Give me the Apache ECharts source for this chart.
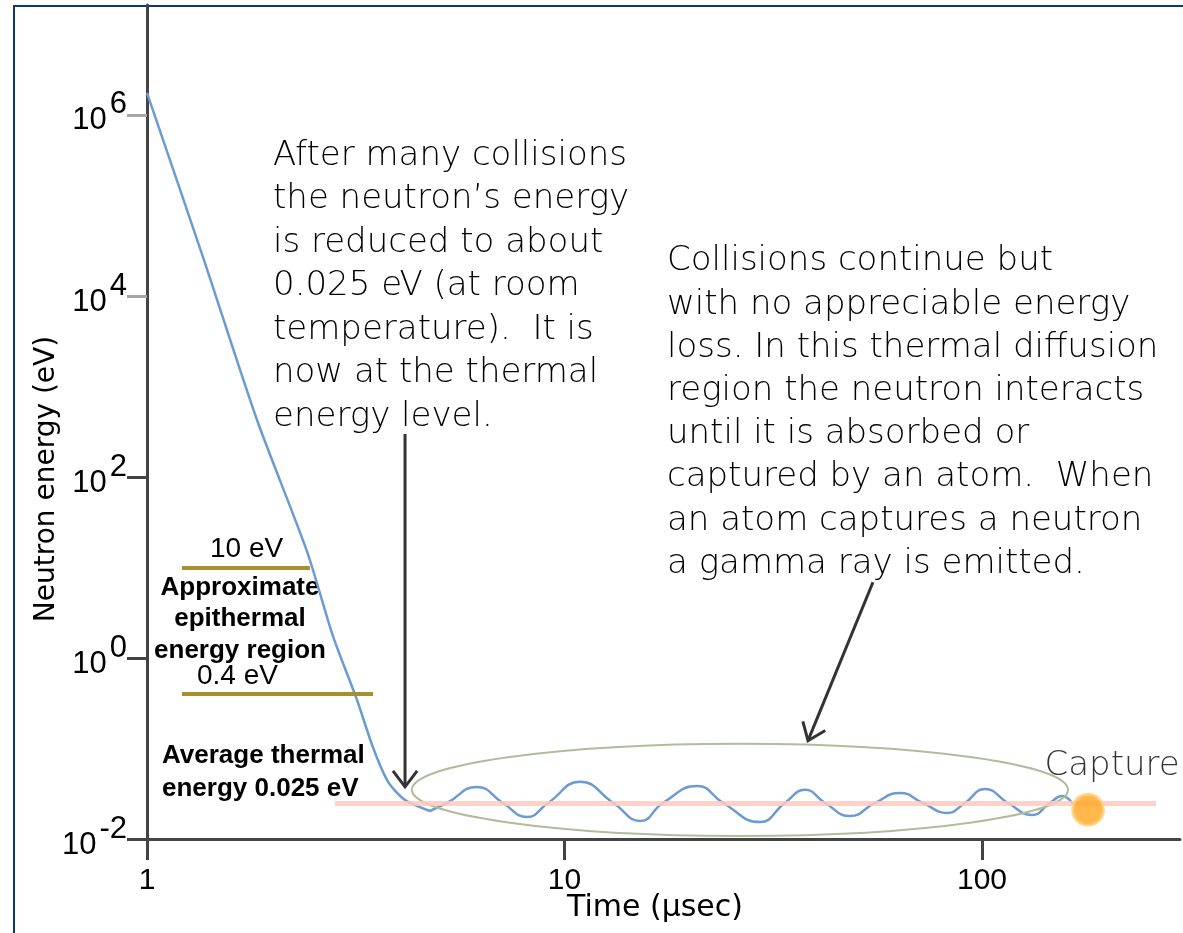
<!DOCTYPE html>
<html>
<head>
<meta charset="utf-8">
<title>Neutron energy vs time</title>
<script src="https://cdn.jsdelivr.net/npm/echarts@6/dist/echarts.min.js"></script>
<style>
  html, body { margin: 0; padding: 0; background: #fff; }
  #chart { width: 1183px; height: 933px; }
</style>
</head>
<body>
<div id="chart"></div>
<script>
// Slowing-down history of a fission neutron: energy (eV) against time (µs), log–log axes.
const timeUs = [1, 1.36, 1.83, 2.42, 2.79, 3.18, 3.48, 3.78, 4.15, 4.76,
  5.23, 6.17, 7.12, 8.13, 9.13, 10.9, 13.1, 15.2, 17.2, 20.8, 24.0, 29.4,
  33.7, 37.7, 42.1, 48.3, 55.4, 63.6, 72.2, 82.5, 91.0, 101.6, 115.4, 131.7,
  145.5, 155.5, 164.4];
const energyEv = [1.75e6, 2.74e4, 440, 14.8, 1.73, 0.35, 0.102, 0.0428, 0.027, 0.0204,
  0.025, 0.0376, 0.025, 0.0175, 0.025, 0.0428, 0.025, 0.0158, 0.025, 0.0385, 0.025, 0.0154,
  0.025, 0.0349, 0.025, 0.0179, 0.025, 0.0323, 0.025, 0.0194, 0.025, 0.0357, 0.025, 0.0184,
  0.025, 0.0299, 0.025];
// Index where the slowing-down phase ends and thermal diffusion begins
const thermalStart = 9;

// Epithermal band limits and the average thermal energy (eV)
const epithermalEv = [10, 0.4];
const thermalEv = 0.025;

// Capture event
const captureTimeUs = 179.5;
const captureEv = 0.021;

// Tick values
const xTicks = [1, 10, 100];
const yTicks = [0.01, 1, 100, 1e4, 1e6];
const yTicksDark = [0.01, 1, 100];
const yTicksLight = [1e4, 1e6];

// Annotation geometry, in data units (time µs, energy eV)
const epithermalSpan = [[1.213, 2.456], [1.213, 3.48]];
const thermalSpan = [2.82, 261];
const arrowFrom = [[4.15, 299], [54.8, 6.87]];
const arrowTo = [[4.15, 0.0377], [38.3, 0.122]];
const diffusionBox = { time: [4.31, 160.7], energy: [0.0108, 0.113] };

const noteLeft = [
  'After many collisions',
  'the neutron\u2019s energy',
  'is reduced to about',
  '0.025 eV (at room',
  'temperature).  It is',
  'now at the thermal',
  'energy level.'
];
const noteRight = [
  'Collisions continue but',
  'with no appreciable energy',
  'loss. In this thermal diffusion',
  'region the neutron interacts',
  'until it is absorbed or',
  'captured by an atom.  When',
  'an atom captures a neutron',
  'a gamma ray is emitted.'
];

const SANS = '"DejaVu Sans", "Liberation Sans", sans-serif';
const ARIAL = '"Liberation Sans", Arial, sans-serif';
const AXIS = '#444444';
const CURVE = { color: '#6a9bd1', width: 2.5 };

const chart = echarts.init(document.getElementById('chart'), null, { renderer: 'canvas' });

const fmtEv = v => v + ' eV';
const points = timeUs.map((t, i) => [t, energyEv[i]]);

const arrowSeries = {
  type: 'custom',
  name: 'arrows',
  coordinateSystem: 'cartesian2d',
  silent: true,
  clip: false,
  z: 5,
  data: arrowFrom.map(p => [p[0], p[1]]),
  renderItem(params, api) {
    const i = params.dataIndex;
    const a = api.coord(arrowFrom[i]);
    const b = api.coord(arrowTo[i]);
    const ang = Math.atan2(b[1] - a[1], b[0] - a[0]);
    const len = 20, half = 0.65;
    const p1 = [b[0] - len * Math.cos(ang - half), b[1] - len * Math.sin(ang - half)];
    const p2 = [b[0] - len * Math.cos(ang + half), b[1] - len * Math.sin(ang + half)];
    const st = { stroke: '#333333', lineWidth: 3, fill: null };
    return {
      type: 'group',
      children: [
        { type: 'line', shape: { x1: a[0], y1: a[1], x2: b[0], y2: b[1] }, style: st },
        { type: 'polyline', shape: { points: [p1, b, p2] }, style: st }
      ]
    };
  }
};

const ellipseSeries = {
  type: 'custom',
  name: 'thermal diffusion region',
  coordinateSystem: 'cartesian2d',
  silent: true,
  clip: false,
  z: 4,
  data: [[diffusionBox.time[0], diffusionBox.energy[0]]],
  renderItem(params, api) {
    const lo = api.coord([diffusionBox.time[0], diffusionBox.energy[0]]);
    const hi = api.coord([diffusionBox.time[1], diffusionBox.energy[1]]);
    return {
      type: 'ellipse',
      shape: {
        cx: (lo[0] + hi[0]) / 2, cy: (lo[1] + hi[1]) / 2,
        rx: Math.abs(hi[0] - lo[0]) / 2, ry: Math.abs(hi[1] - lo[1]) / 2
      },
      style: { stroke: '#b0bc9a', lineWidth: 2, fill: null }
    };
  }
};

const levelLine = (i, dx) => [
  {
    coord: [epithermalSpan[i][0], epithermalEv[i]],
    lineStyle: { color: '#a98e2e', width: 4, type: 'solid' },
    label: {
      show: true, formatter: fmtEv(epithermalEv[i]), position: 'insideStartTop',
      distance: [dx, 4], color: '#000', fontFamily: ARIAL, fontSize: 28
    }
  },
  { coord: [epithermalSpan[i][1], epithermalEv[i]] }
];

const option = {
  animation: false,
  backgroundColor: '#ffffff',
  textStyle: { fontFamily: SANS },
  grid: { left: 147, right: 3, top: 5, bottom: 94, containLabel: false },
  xAxis: {
    type: 'log', logBase: 10, min: 1, max: 298,
    axisLine: { show: true, onZero: false, lineStyle: { color: AXIS, width: 3 } },
    axisTick: { show: true, length: 21, customValues: xTicks, lineStyle: { color: AXIS, width: 3 } },
    axisLabel: { customValues: xTicks, margin: 27, color: '#000', fontFamily: ARIAL, fontSize: 30 },
    splitLine: { show: false },
    name: 'Time (\u00b5sec)', nameLocation: 'middle', nameGap: 54, nameMoveOverlap: false,
    nameTextStyle: { color: '#000', fontFamily: SANS, fontSize: 30, padding: [0, 17, 0, 0] }
  },
  yAxis: [
    {
      type: 'log', logBase: 10, min: 0.01, max: 1.64e7,
      axisLine: { show: true, onZero: false, lineStyle: { color: AXIS, width: 3 } },
      axisTick: { show: true, length: 20, customValues: yTicksDark, lineStyle: { color: AXIS, width: 3 } },
      axisLabel: {
        customValues: yTicks, margin: 20, padding: [12, 0, 0, 0],
        formatter: v => '{b|10}{s|' + Math.round(Math.log10(v)) + '}',
        rich: {
          b: { fontFamily: ARIAL, fontSize: 31, color: '#000', lineHeight: 30 },
          s: { fontFamily: ARIAL, fontSize: 31, color: '#000', lineHeight: 30, padding: [0, 0, 32, 3] }
        }
      },
      splitLine: { show: false },
      name: 'Neutron energy (eV)', nameLocation: 'middle', nameGap: 86, nameMoveOverlap: false,
      nameTextStyle: { color: '#000', fontFamily: SANS, fontSize: 28, padding: [0, 114, 0, 0] }
    },
    {
      type: 'log', logBase: 10, min: 0.01, max: 1.64e7, position: 'left',
      axisLine: { show: false },
      axisTick: { show: true, length: 20, customValues: yTicksLight, lineStyle: { color: '#a6a6a6', width: 3 } },
      axisLabel: { show: false },
      splitLine: { show: false }
    }
  ],
  series: [
    {
      // slowing-down phase
      type: 'line',
      name: 'Neutron energy',
      data: points.slice(0, thermalStart + 1),
      smooth: 0.25,
      showSymbol: false,
      symbol: 'none',
      lineStyle: CURVE,
      z: 2
    },
    {
      // thermal diffusion phase
      type: 'line',
      name: 'Neutron energy (thermal)',
      data: points.slice(thermalStart),
      smooth: 0.5,
      showSymbol: false,
      symbol: 'none',
      lineStyle: CURVE,
      z: 2
    },
    {
      type: 'line',
      name: 'Energy levels',
      data: [],
      z: 3,
      markLine: {
        silent: true,
        symbol: 'none',
        animation: false,
        data: [
          levelLine(0, 28),
          levelLine(1, 15),
          [
            { coord: [thermalSpan[0], thermalEv], lineStyle: { color: '#ffc9c0', width: 5, type: 'solid', opacity: 0.85 }, label: { show: false } },
            { coord: [thermalSpan[1], thermalEv] }
          ]
        ]
      }
    },
    ellipseSeries,
    arrowSeries,
    {
      type: 'scatter',
      name: 'Capture',
      data: [[captureTimeUs, captureEv]],
      symbolSize: 31,
      itemStyle: { color: '#ffa61e', borderColor: 'rgba(255,206,122,0.95)', borderWidth: 3 },
      label: {
        show: true, formatter: 'Capture', position: 'top', distance: 10, offset: [24, 0],
        color: '#000', fontFamily: SANS, fontSize: 34, fontWeight: 200
      },
      z: 6
    }
  ],
  graphic: [
    {
      type: 'polyline', silent: true,
      shape: { points: [[14, 933], [14, 6], [1183, 6]] },
      style: { stroke: '#0c3a6c', lineWidth: 2, fill: null }
    },
    {
      type: 'text', x: 273, y: 134, silent: true,
      style: { text: noteLeft.join('\n'), fontFamily: SANS, fontSize: 34, fontWeight: 200, lineHeight: 43.5, fill: '#000', verticalAlign: 'top' }
    },
    {
      type: 'text', x: 667, y: 240, silent: true,
      style: { text: noteRight.join('\n'), fontFamily: SANS, fontSize: 34, fontWeight: 200, lineHeight: 43.2, fill: '#000', verticalAlign: 'top' }
    },
    {
      type: 'text', x: 240, y: 572, silent: true,
      style: { text: 'Approximate\nepithermal\nenergy region', fontFamily: ARIAL, fontSize: 26, fontWeight: 'bold', lineHeight: 31.5, fill: '#000', align: 'center', verticalAlign: 'top' }
    },
    {
      type: 'text', x: 162, y: 739, silent: true,
      style: { text: 'Average thermal\nenergy ' + fmtEv(thermalEv), fontFamily: ARIAL, fontSize: 26, fontWeight: 'bold', lineHeight: 33, fill: '#000', verticalAlign: 'top' }
    }
  ]
};

chart.setOption(option);
</script>
</body>
</html>
